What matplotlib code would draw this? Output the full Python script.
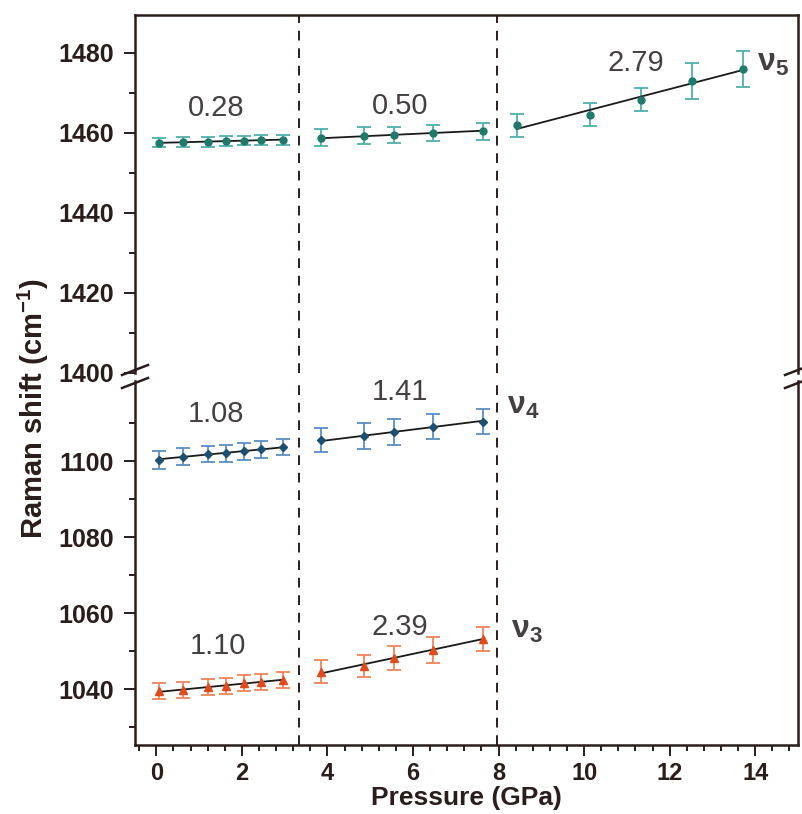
import numpy as np
import matplotlib
matplotlib.use("Agg")
import matplotlib.pyplot as plt
from matplotlib.lines import Line2D
from matplotlib.ticker import MultipleLocator, FixedLocator

plt.rcParams["font.family"] = ["Liberation Sans", "DejaVu Sans"]
plt.rcParams["mathtext.default"] = "regular"

# ── datos: presión (GPa) de cada tramo ──
p_t1 = [0.07, 0.62, 1.21, 1.62, 2.05, 2.44, 2.95]
p_t2 = [3.85, 4.86, 5.55, 6.46, 7.63]
p_t3 = [8.42, 10.13, 11.32, 12.52, 13.71]

# nu5 (cm-1) y errores
v5_t1 = [1457.6, 1457.7, 1457.8, 1458.0, 1458.1, 1458.2, 1458.3]
v5_t1_err = [1.2, 1.2, 1.2, 1.2, 1.2, 1.2, 1.2]
v5_t2 = [1458.8, 1459.3, 1459.5, 1460.0, 1460.4]
v5_t2_err = [2.1, 2.1, 2.1, 2.1, 2.1]
v5_t3 = [1461.9, 1464.6, 1468.3, 1473.1, 1476.1]
v5_t3_err = [2.8, 2.9, 2.9, 4.5, 4.5]

# nu4
v4_t1 = [1100.4, 1101.2, 1101.9, 1102.1, 1102.6, 1103.1, 1103.7]
v4_t1_err = [2.4, 2.2, 2.2, 2.2, 2.2, 2.2, 2.2]
v4_t2 = [1105.5, 1106.6, 1107.7, 1109.1, 1110.4]
v4_t2_err = [3.2, 3.4, 3.4, 3.3, 3.3]

# nu3
v3_t1 = [1039.4, 1039.8, 1040.5, 1040.9, 1041.6, 1042.0, 1042.4]
v3_t1_err = [2.1, 2.1, 2.1, 2.1, 2.1, 2.1, 2.1]
v3_t2 = [1044.6, 1046.2, 1048.2, 1050.3, 1053.2]
v3_t2_err = [3.0, 2.9, 3.1, 3.3, 3.2]

# pendientes (cm-1/GPa) de los ajustes lineales
pend_v5 = [0.28, 0.50, 2.79]
pend_v4 = [1.08, 1.41]
pend_v3 = [1.10, 2.39]

# posiciones de las etiquetas de pendiente (GPa, cm-1)
etq_v5 = [(1.40, 1466.3), (5.70, 1466.8), (11.2, 1477.4)]
etq_v4 = [(1.40, 1112.3), (5.70, 1118.3)]
etq_v3 = [(1.45, 1051.4), (5.70, 1056.4)]

# separaciones de fase (GPa)
transiciones = [3.33, 7.96]

c_v5 = ("#1f7a6c", "#4fb0aa")
c_v4 = ("#1d4f73", "#5b8fc2")
c_v3 = ("#e04a1c", "#f0845a")
c_txt = "#454040"
c_eje = "#2a1e1c"

fig = plt.figure(figsize=(8.02, 8.14), dpi=100)
W, H = 802.0, 814.0
l, r = 135 / W, 798 / W
ax_sup = fig.add_axes([l, 1 - 373 / H, r - l, 358 / H])
ax_inf = fig.add_axes([l, 1 - 745 / H, r - l, 364 / H])


def serie(ax, p, v, err, pend, cols, marker, ms):
    ax.errorbar(p, v, yerr=err, fmt="none", ecolor=cols[1], elinewidth=1.3,
                capsize=5, capthick=1.3, zorder=2)
    b = np.mean(v) - pend * np.mean(p)
    xs = np.array([p[0], p[-1]])
    ax.plot(xs, pend * xs + b, color="#1a1a1a", lw=1.3, zorder=3)
    ax.plot(p, v, linestyle="none", marker=marker, ms=ms, color=cols[0],
            markeredgecolor=cols[0], zorder=4)


serie(ax_sup, p_t1, v5_t1, v5_t1_err, pend_v5[0], c_v5, "o", 5)
serie(ax_sup, p_t2, v5_t2, v5_t2_err, pend_v5[1], c_v5, "o", 5)
serie(ax_sup, p_t3, v5_t3, v5_t3_err, pend_v5[2], c_v5, "o", 5)
serie(ax_inf, p_t1, v4_t1, v4_t1_err, pend_v4[0], c_v4, "D", 4.5)
serie(ax_inf, p_t2, v4_t2, v4_t2_err, pend_v4[1], c_v4, "D", 4.5)
serie(ax_inf, p_t1, v3_t1, v3_t1_err, pend_v3[0], c_v3, "^", 6)
serie(ax_inf, p_t2, v3_t2, v3_t2_err, pend_v3[1], c_v3, "^", 6)

for (x, y), s in zip(etq_v5, pend_v5):
    ax_sup.text(x, y, f"{s:.2f}", fontsize=21, color=c_txt, ha="center", va="center")
for (x, y), s in zip(etq_v4, pend_v4):
    ax_inf.text(x, y, f"{s:.2f}", fontsize=21, color=c_txt, ha="center", va="center")
for (x, y), s in zip(etq_v3, pend_v3):
    ax_inf.text(x, y, f"{s:.2f}", fontsize=21, color=c_txt, ha="center", va="center")

ax_sup.text(14.05, 1477.6, "ν$_5$", fontsize=23, fontweight="bold", color=c_txt,
            ha="left", va="center")
ax_inf.text(8.2, 1114.5, "ν$_4$", fontsize=23, fontweight="bold", color=c_txt,
            ha="left", va="center")
ax_inf.text(8.3, 1055.5, "ν$_3$", fontsize=23, fontweight="bold", color=c_txt,
            ha="left", va="center")

for ax in (ax_sup, ax_inf):
    for xt in transiciones:
        ax.axvline(xt, color=c_eje, lw=1.4, ls=(0, (5, 4)), zorder=1)
    ax.set_xlim(-0.5, 15.0)
    for s in ax.spines.values():
        s.set_linewidth(1.8)
        s.set_color(c_eje)
    ax.tick_params(which="major", direction="out", length=8, width=1.4, pad=7,
                   color=c_eje, labelsize=18, labelcolor=c_eje, right=False, top=False)
    ax.tick_params(which="minor", direction="out", length=4, width=1.4, color=c_eje,
                   right=False, top=False)
    ax.xaxis.set_major_locator(MultipleLocator(2))
    ax.xaxis.set_minor_locator(MultipleLocator(0.4))

ax_sup.set_ylim(1400, 1489.5)
ax_sup.yaxis.set_major_locator(FixedLocator([1400, 1420, 1440, 1460, 1480]))
ax_sup.yaxis.set_minor_locator(FixedLocator([1410, 1430, 1450, 1470]))
ax_sup.spines["bottom"].set_visible(False)
ax_sup.tick_params(axis="x", which="both", bottom=False, labelbottom=False)

ax_inf.set_ylim(1025.3, 1121.1)
ax_inf.yaxis.set_major_locator(FixedLocator([1040, 1060, 1080, 1100]))
ax_inf.yaxis.set_minor_locator(FixedLocator([1030, 1050, 1070, 1090, 1110]))
ax_inf.spines["top"].set_visible(False)
ax_inf.tick_params(axis="x", which="major", pad=4, labelsize=17)
for lab in ax_inf.get_yticklabels() + ax_inf.get_xticklabels() + ax_sup.get_yticklabels():
    lab.set_fontweight("bold")

ax_inf.set_xlabel("Pressure (GPa)", fontsize=19, fontweight="bold", color=c_eje, labelpad=1)
fig.text(33 / W, 1 - 408 / H, "Raman shift (cm$^{-1}$)", rotation=90, fontsize=21,
         fontweight="bold", color=c_eje, ha="center", va="center")

# marcas de corte del eje
for xc in (135, 798):
    for yc in (370, 383):
        fig.add_artist(Line2D([(xc - 13) / W, (xc + 13) / W],
                              [1 - (yc + 5) / H, 1 - (yc - 5) / H],
                              color=c_eje, lw=1.8))

fig.savefig("out.png", dpi=100)
